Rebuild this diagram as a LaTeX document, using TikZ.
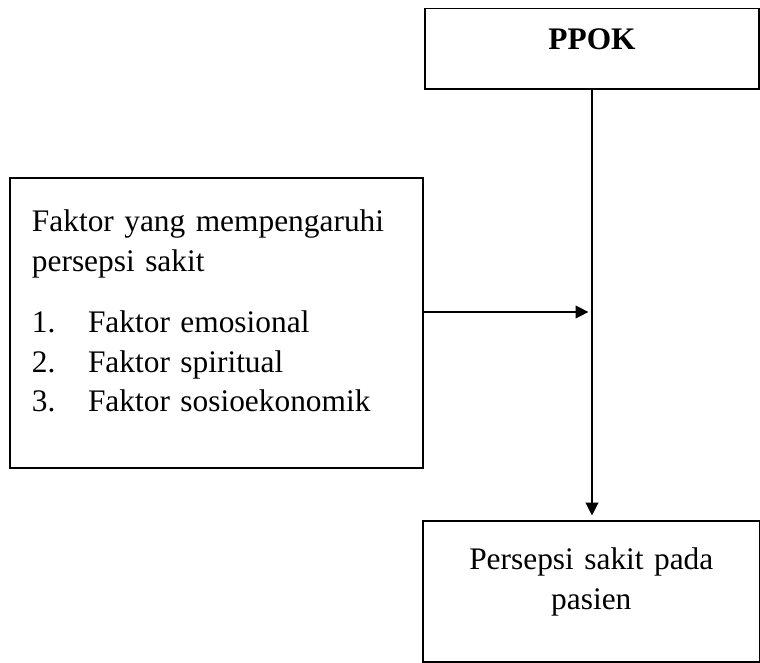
\documentclass[tikz,border=0pt]{standalone}
\usepackage{fontspec}
\setmainfont{Liberation Serif}
\usepackage{tikz}
\usetikzlibrary{arrows.meta,positioning}

\begin{document}
\begin{tikzpicture}[x=0.36pt, y=-0.36pt,
  kotak/.style = {draw, line width=0.7pt, shape = rectangle, outer sep=0pt, inner ysep=0pt, font = \fontsize{11.3pt}{14.2pt}\selectfont},
  panah/.style = {line width=0.45pt, -{Triangle[length=4.6pt, width=4.6pt]}}]
\useasboundingbox (0,0) rectangle (760,663);
\node[kotak, anchor = north, minimum width = 120.2pt, text height = 14.9pt, text depth = 14pt] (ppok) at (592,8.5) {\textbf{PPOK}};
\node[kotak, anchor = north west, text width = 132.9pt, inner xsep = 7.9pt, align = left, text height = 19.3pt, text depth = 85.1pt] (faktor) at (10,178)
{\mbox{Faktor yang mempengaruhi}\\
persepsi sakit\\[8pt]
\makebox[20.2pt][l]{1.}Faktor emosional\\
\makebox[20.2pt][l]{2.}Faktor spiritual\\
\makebox[20.2pt][l]{3.}Faktor sosioekonomik};
\node[kotak, anchor = north west, text width = 110pt, inner xsep = 5.6pt, align = center, text height = 17.6pt, text depth = 33.2pt] (persepsi) at (423,521)
{Persepsi sakit pada\\ pasien};
\coordinate (temu) at (ppok.south |- 0,312);
\draw[panah] (ppok.south) -- ([yshift=2pt]ppok.south |- persepsi.north);
\draw[panah] (faktor.east |- temu) -- ([xshift=-1.3pt]temu);
\end{tikzpicture}
\end{document}
